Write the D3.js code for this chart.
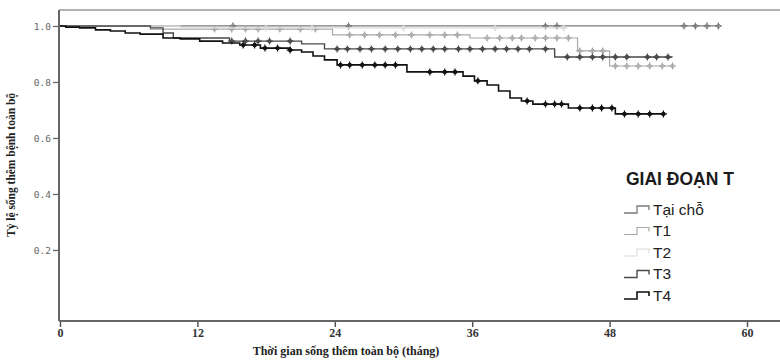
<!DOCTYPE html>
<html lang="vi">
<head>
<meta charset="UTF-8">
<title>Kaplan-Meier theo giai đoạn T</title>
<script src="https://d3js.org/d3.v7.min.js"></script>
<style>
  body { margin: 0; background: #fff; }
  svg { display: block; }
</style>
</head>
<body>
<svg width="780" height="360"></svg>
<script>
// survival steps (time in months, survival proportion), end of follow-up, censored times
const taiChoTimes = [0];
const taiChoSurv = [1.0];
const taiChoEnd = 57.5;
const taiChoCensor = [15.1, 25.2, 42.4, 43.4, 54.5, 55.5, 56.5, 57.5];

const t1Times = [0, 7.9, 23.8, 35.8, 45.2, 48.0];
const t1Surv = [1.0, 0.989, 0.968, 0.957, 0.911, 0.857];
const t1End = 53.5;
const t1Censor = [13.5, 15.0, 16.2, 17.3, 19.2, 21.0, 22.3, 25.3, 26.6, 27.9, 29.3, 30.7, 32.3, 33.6, 34.7,
  37.3, 38.4, 39.5, 40.3, 41.5, 42.4, 43.4, 44.4, 45.4, 46.5, 47.4, 48.5, 49.5, 50.5, 51.5, 52.6, 53.5];

const t2Times = [0, 10.5];
const t2Surv = [1.0, 0.993];
const t2End = 44;
const t2Censor = [18, 22, 30, 38, 44];

const t3Times = [0, 7.9, 9.0, 9.9, 14.8, 21.1, 23.1, 43.2];
const t3Surv = [1.0, 0.993, 0.975, 0.957, 0.946, 0.936, 0.918, 0.889];
const t3End = 53.5;
const t3Censor = [15.0, 16.2, 17.3, 18.3, 20.1, 24.2, 25.1, 26.2, 27.2, 28.4, 29.5, 30.6, 31.6, 32.6, 33.6,
  34.8, 35.8, 36.9, 38.0, 39.0, 40.0, 41.0, 42.4, 44.3, 45.4, 46.5, 47.4, 48.5, 49.5, 51.3, 52.1, 53.1];

const t4Times = [0, 0.5, 1.7, 3.1, 4.4, 5.7, 7.0, 9.0, 10.5, 12.2, 14.2, 15.7, 17.5, 20.1, 21.1, 22.1, 23.1,
  24.2, 30.3, 35.2, 36.2, 37.3, 38.3, 39.3, 40.3, 41.3, 44.4, 48.5];
const t4Surv = [1.0, 0.996, 0.993, 0.986, 0.982, 0.975, 0.971, 0.957, 0.954, 0.946, 0.939, 0.932, 0.921, 0.914,
  0.907, 0.893, 0.879, 0.861, 0.836, 0.821, 0.804, 0.789, 0.768, 0.743, 0.732, 0.721, 0.707, 0.686];
const t4End = 52.7;
const t4Censor = [16.0, 17.0, 17.9, 19.0, 20.1, 24.5, 25.3, 26.4, 27.5, 28.4, 29.3, 32.3, 33.6, 34.5, 36.5,
  40.8, 42.4, 43.2, 43.8, 45.4, 46.5, 47.3, 48.2, 49.3, 50.5, 51.5, 52.7];

const groupNames = ["Tại chỗ", "T1", "T2", "T3", "T4"];
const xTicks = [0, 12, 24, 36, 48, 60];
const yTicks = [0.2, 0.4, 0.6, 0.8, 1.0];

const series = [
  { name: groupNames[0], times: taiChoTimes, surv: taiChoSurv, end: taiChoEnd, censor: taiChoCensor, color: "#7a7a7a", w: 1.3, dot: false },
  { name: groupNames[1], times: t1Times, surv: t1Surv, end: t1End, censor: t1Censor, color: "#a8a8a8", w: 1.2, dot: false },
  { name: groupNames[2], times: t2Times, surv: t2Surv, end: t2End, censor: t2Censor, color: "#dcdcdc", w: 1.2, dot: false },
  { name: groupNames[3], times: t3Times, surv: t3Surv, end: t3End, censor: t3Censor, color: "#4a4a4a", w: 1.4, dot: true },
  { name: groupNames[4], times: t4Times, surv: t4Surv, end: t4End, censor: t4Censor, color: "#111111", w: 1.6, dot: true }
];

const svg = d3.select("svg");
const width = 780;

const x = d3.scaleLinear().domain([0, 60]).range([60, 747]);
const y = d3.scaleLinear().domain([-0.0536, 1.057]).range([321, 10]);

// frame: top border
svg.append("line")
  .attr("x1", 59).attr("x2", width).attr("y1", 10).attr("y2", 10)
  .attr("stroke", "#9a9a9a").attr("stroke-width", 1.5);

// x axis
const xAxis = svg.append("g")
  .attr("transform", "translate(0,321)")
  .call(d3.axisBottom(x).tickValues(xTicks).tickSize(6).tickSizeOuter(0));
xAxis.select(".domain").remove();
xAxis.selectAll(".tick line").attr("stroke", "#555").attr("stroke-width", 1.5);
xAxis.selectAll("text")
  .attr("y", 7).attr("dy", "0.71em")
  .style("font-family", "'Liberation Serif', serif")
  .style("font-weight", "bold").style("font-size", "12px").attr("fill", "#333");
svg.append("line")
  .attr("x1", 59).attr("x2", width).attr("y1", 321).attr("y2", 321)
  .attr("stroke", "#666").attr("stroke-width", 2);

// y axis
const yAxis = svg.append("g")
  .attr("transform", "translate(59,0)")
  .call(d3.axisLeft(y).tickValues(yTicks).tickFormat(d3.format(".1f")).tickSize(6).tickSizeOuter(0));
yAxis.select(".domain").remove();
yAxis.selectAll(".tick line").attr("stroke", "#666").attr("stroke-width", 1.3);
yAxis.selectAll("text")
  .attr("x", -8)
  .style("font-family", "'DejaVu Sans Mono', monospace")
  .style("font-size", "9.5px").attr("fill", "#666");
svg.append("line")
  .attr("x1", 59).attr("x2", 59).attr("y1", 10).attr("y2", 321)
  .attr("stroke", "#666").attr("stroke-width", 2);

// axis titles
svg.append("text")
  .attr("x", 346).attr("y", 355)
  .attr("text-anchor", "middle")
  .style("font-family", "'Liberation Serif', serif")
  .style("font-weight", "bold").style("font-size", "12px").attr("fill", "#222")
  .text("Thời gian sống thêm toàn bộ (tháng)");

svg.append("text")
  .attr("transform", "translate(15,165) rotate(-90)")
  .attr("text-anchor", "middle")
  .attr("textLength", 144).attr("lengthAdjust", "spacingAndGlyphs")
  .style("font-family", "'Liberation Serif', serif")
  .style("font-weight", "bold").style("font-size", "11.5px").attr("fill", "#222")
  .text("Tỷ lệ sống thêm bệnh toàn bộ");

// survival curves
const stepLine = d3.line()
  .x(d => x(d[0])).y(d => y(d[1]))
  .curve(d3.curveStepAfter);

function survAt(s, t) {
  let v = s.surv[0];
  s.times.forEach((tt, i) => { if (tt <= t) v = s.surv[i]; });
  return v;
}

const curves = svg.append("g");
series.forEach(s => {
  const pts = s.times.map((t, i) => [t, s.surv[i]]);
  pts.push([s.end, s.surv[s.surv.length - 1]]);
  const g = curves.append("g");
  g.append("path")
    .attr("d", stepLine(pts))
    .attr("fill", "none")
    .attr("stroke", s.color)
    .attr("stroke-width", s.w);
  const marks = g.selectAll("g.cens")
    .data(s.censor)
    .enter().append("g")
    .attr("transform", t => `translate(${x(t)},${y(survAt(s, t))})`);
  marks.append("path")
    .attr("d", "M-3.5,0H3.5M0,-3.5V3.5")
    .attr("stroke", s.color).attr("stroke-width", 1.2);
  if (s.dot) {
    marks.append("circle").attr("r", 2.2).attr("fill", s.color);
  } else {
    marks.append("path")
      .attr("d", "M0,-2.5L2.5,0L0,2.5L-2.5,0Z")
      .attr("fill", "none").attr("stroke", s.color).attr("stroke-width", 0.9);
  }
});

// legend
const legend = svg.append("g");
legend.append("text")
  .attr("x", 626).attr("y", 185)
  .style("font-family", "'Liberation Sans', Arial, sans-serif")
  .style("font-weight", "bold").style("font-size", "17.5px").attr("fill", "#1a1a1a")
  .text("GIAI ĐOẠN T");

const item = legend.selectAll("g.item")
  .data(series)
  .enter().append("g")
  .attr("transform", (d, i) => `translate(0,${209 + i * 21.5})`);
item.append("path")
  .attr("d", "M624,4H637V-3H649V1")
  .attr("fill", "none")
  .attr("stroke", d => d.color)
  .attr("stroke-width", d => d.w);
item.append("text")
  .attr("x", 653).attr("y", 0).attr("dy", "0.36em")
  .style("font-family", "'Liberation Sans', Arial, sans-serif")
  .style("font-size", "15.5px").attr("fill", "#222")
  .text(d => d.name);
</script>
</body>
</html>
